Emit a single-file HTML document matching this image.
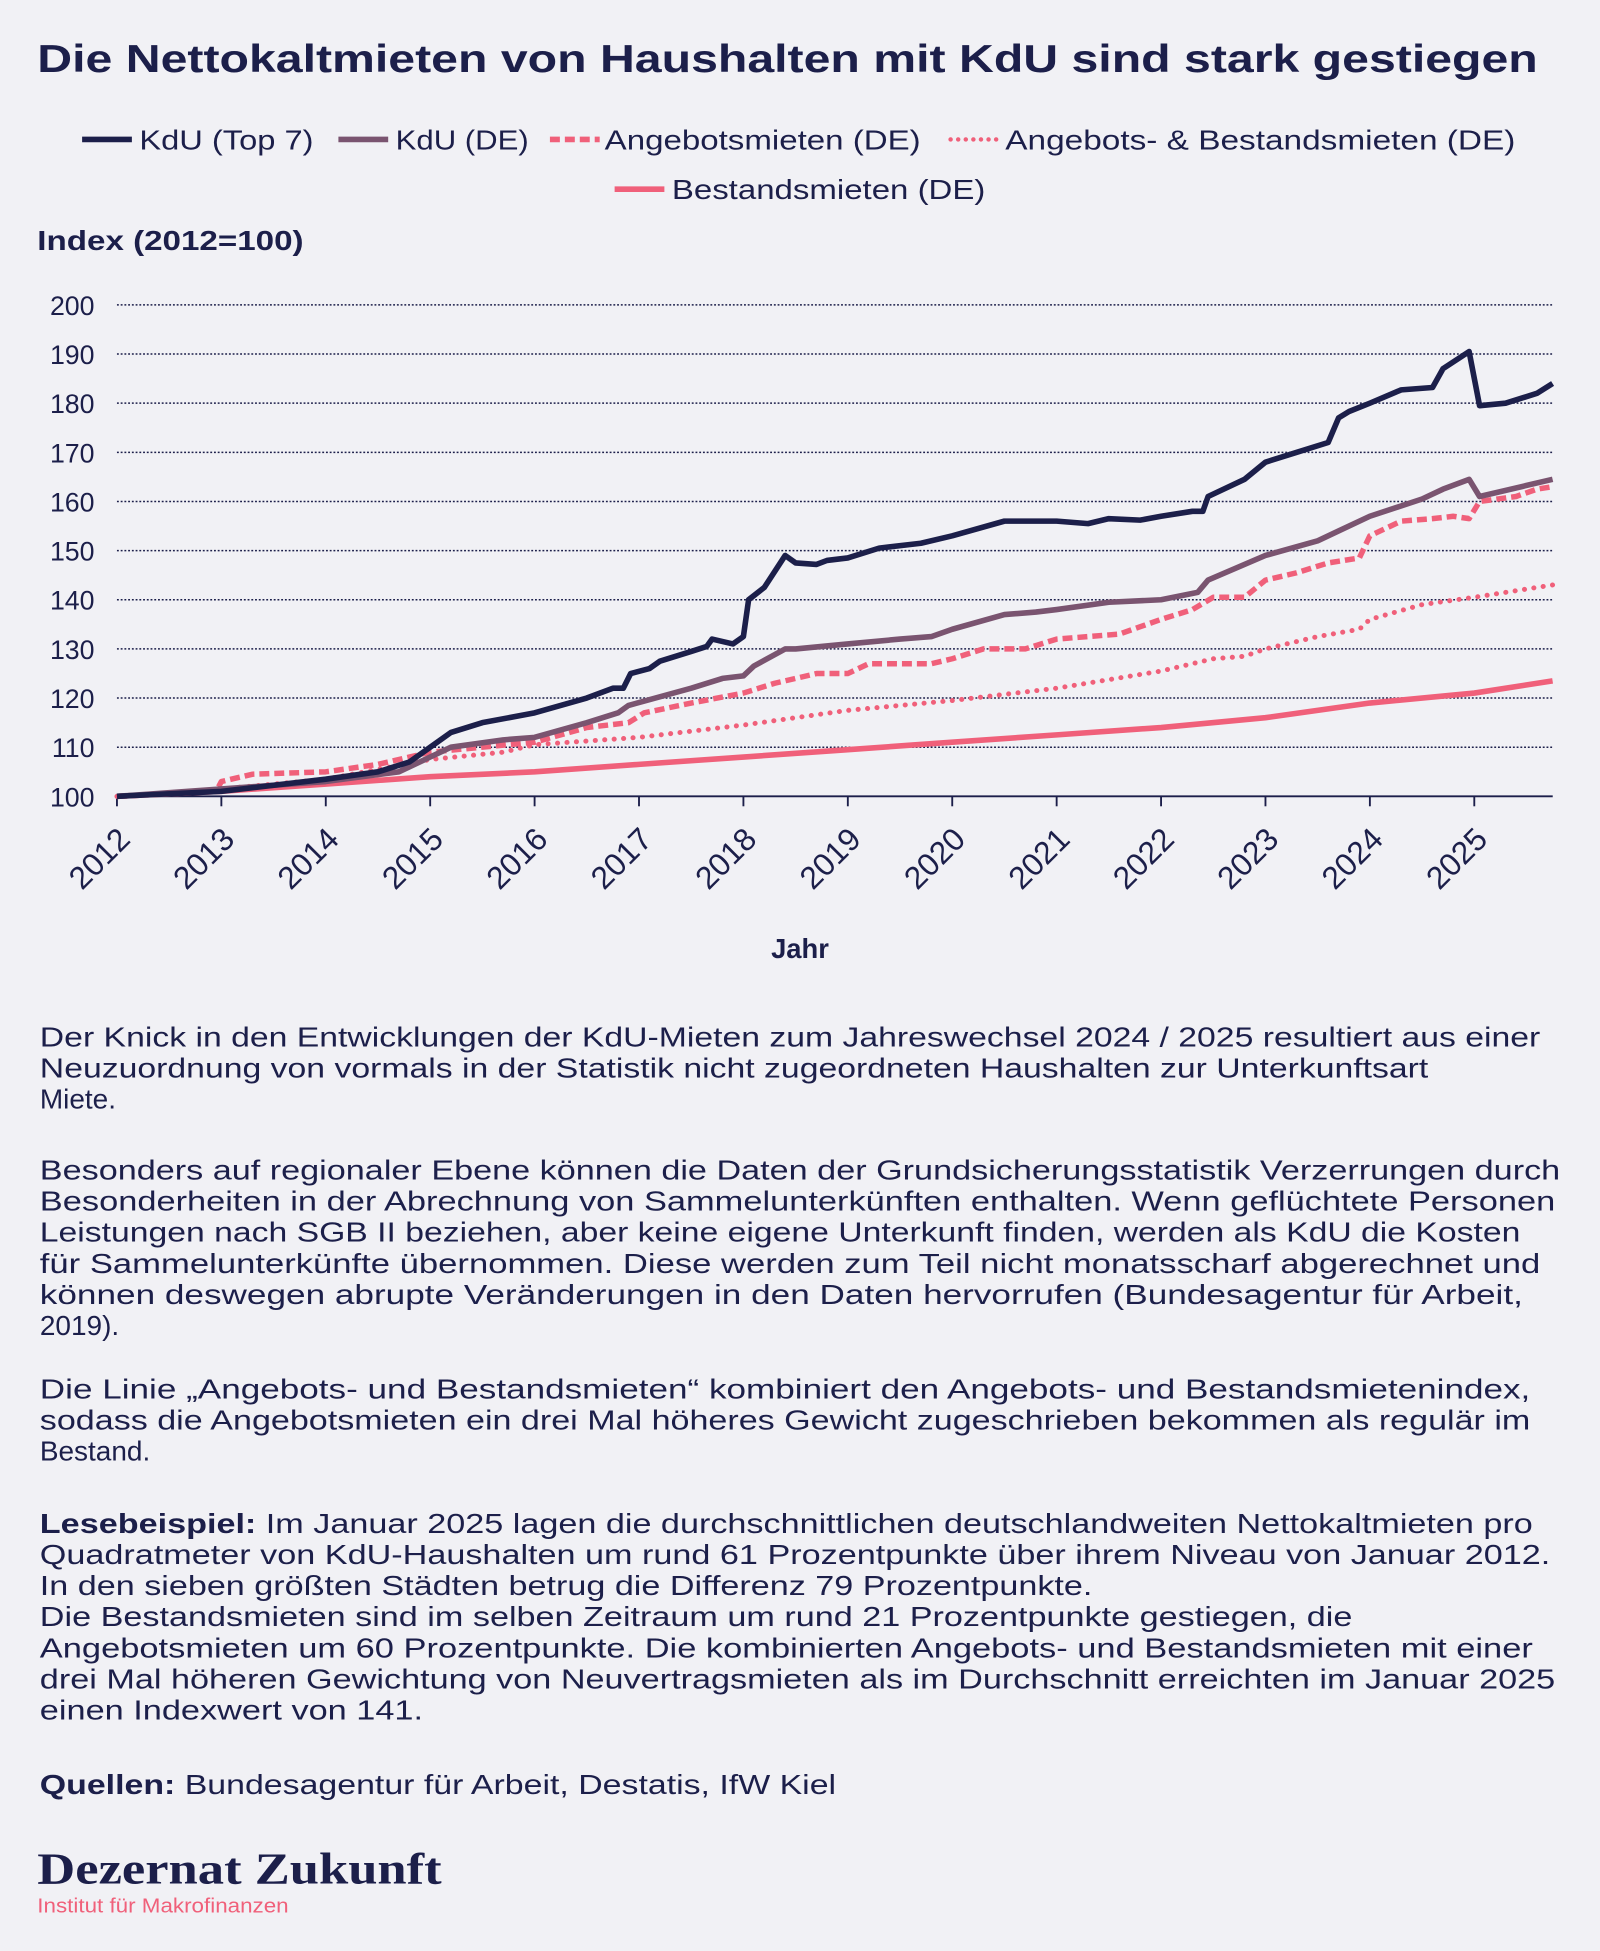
<!DOCTYPE html>
<html><head><meta charset="utf-8"><style>
html,body{margin:0;padding:0;background:#f1f1f5;}
svg{display:block;}
text{font-family:"Liberation Sans",sans-serif;fill:#1c1f4a;}
</style></head><body>
<svg id="s" width="1600" height="1951" viewBox="0 0 1286 1568" xmlns="http://www.w3.org/2000/svg">
<rect width="1286" height="1568" fill="#f1f1f5"/>
<text x="30" y="58" font-size="31" font-weight="bold" textLength="1206" lengthAdjust="spacingAndGlyphs">Die Nettokaltmieten von Haushalten mit KdU sind stark gestiegen</text>
<g font-size="22">
<line x1="66" y1="112" x2="106" y2="112" stroke="#1c1f4a" stroke-width="4.5"/>
<text x="112" y="120" textLength="140" lengthAdjust="spacingAndGlyphs">KdU (Top 7)</text>
<line x1="272" y1="112" x2="312" y2="112" stroke="#7a5470" stroke-width="4.5"/>
<text x="318" y="120" textLength="107" lengthAdjust="spacingAndGlyphs">KdU (DE)</text>
<line x1="442" y1="112" x2="482" y2="112" stroke="#f0607a" stroke-width="4.5" stroke-dasharray="8,4"/>
<text x="486" y="120" textLength="254" lengthAdjust="spacingAndGlyphs">Angebotsmieten (DE)</text>
<line x1="764" y1="112" x2="802" y2="112" stroke="#f0607a" stroke-width="3.5" stroke-dasharray="0.1,6" stroke-linecap="round"/>
<text x="808" y="120" textLength="410" lengthAdjust="spacingAndGlyphs">Angebots- &amp; Bestandsmieten (DE)</text>
<line x1="494" y1="152" x2="534" y2="152" stroke="#f0607a" stroke-width="4.5"/>
<text x="540" y="160" textLength="252" lengthAdjust="spacingAndGlyphs">Bestandsmieten (DE)</text>
</g>
<text x="30" y="201" font-size="22" font-weight="bold" textLength="214" lengthAdjust="spacingAndGlyphs">Index (2012=100)</text>
<g id="grid"></g>
<g id="series" fill="none" stroke-linejoin="round"></g>
<text x="643" y="770" font-size="22" font-weight="bold" text-anchor="middle">Jahr</text>
<g font-size="22.5">
<text x="32" y="841" textLength="1206" lengthAdjust="spacingAndGlyphs">Der Knick in den Entwicklungen der KdU-Mieten zum Jahreswechsel 2024 / 2025 resultiert aus einer</text>
<text x="32" y="866" textLength="1116" lengthAdjust="spacingAndGlyphs">Neuzuordnung von vormals in der Statistik nicht zugeordneten Haushalten zur Unterkunftsart</text>
<text x="32" y="891">Miete.</text>
<text x="32" y="948" textLength="1222" lengthAdjust="spacingAndGlyphs">Besonders auf regionaler Ebene können die Daten der Grundsicherungsstatistik Verzerrungen durch</text>
<text x="32" y="973" textLength="1218" lengthAdjust="spacingAndGlyphs">Besonderheiten in der Abrechnung von Sammelunterkünften enthalten. Wenn geflüchtete Personen</text>
<text x="32" y="998" textLength="1190" lengthAdjust="spacingAndGlyphs">Leistungen nach SGB II beziehen, aber keine eigene Unterkunft finden, werden als KdU die Kosten</text>
<text x="32" y="1023" textLength="1206" lengthAdjust="spacingAndGlyphs">für Sammelunterkünfte übernommen. Diese werden zum Teil nicht monatsscharf abgerechnet und</text>
<text x="32" y="1048" textLength="1192" lengthAdjust="spacingAndGlyphs">können deswegen abrupte Veränderungen in den Daten hervorrufen (Bundesagentur für Arbeit,</text>
<text x="32" y="1073">2019).</text>
<text x="32" y="1124" textLength="1198" lengthAdjust="spacingAndGlyphs">Die Linie „Angebots- und Bestandsmieten“ kombiniert den Angebots- und Bestandsmietenindex,</text>
<text x="32" y="1149" textLength="1198" lengthAdjust="spacingAndGlyphs">sodass die Angebotsmieten ein drei Mal höheres Gewicht zugeschrieben bekommen als regulär im</text>
<text x="32" y="1174">Bestand.</text>
<text x="32" y="1232" textLength="1200" lengthAdjust="spacingAndGlyphs"><tspan font-weight="bold">Lesebeispiel:</tspan> Im Januar 2025 lagen die durchschnittlichen deutschlandweiten Nettokaltmieten pro</text>
<text x="32" y="1257" textLength="1214" lengthAdjust="spacingAndGlyphs">Quadratmeter von KdU-Haushalten um rund 61 Prozentpunkte über ihrem Niveau von Januar 2012.</text>
<text x="32" y="1282" textLength="846" lengthAdjust="spacingAndGlyphs">In den sieben größten Städten betrug die Differenz 79 Prozentpunkte.</text>
<text x="32" y="1307" textLength="1055" lengthAdjust="spacingAndGlyphs">Die Bestandsmieten sind im selben Zeitraum um rund 21 Prozentpunkte gestiegen, die</text>
<text x="32" y="1332" textLength="1200" lengthAdjust="spacingAndGlyphs">Angebotsmieten um 60 Prozentpunkte. Die kombinierten Angebots- und Bestandsmieten mit einer</text>
<text x="32" y="1357" textLength="1218" lengthAdjust="spacingAndGlyphs">drei Mal höheren Gewichtung von Neuvertragsmieten als im Durchschnitt erreichten im Januar 2025</text>
<text x="32" y="1382" textLength="308" lengthAdjust="spacingAndGlyphs">einen Indexwert von 141.</text>
<text x="32" y="1442" textLength="640" lengthAdjust="spacingAndGlyphs"><tspan font-weight="bold">Quellen:</tspan> Bundesagentur für Arbeit, Destatis, IfW Kiel</text>
</g>
<text x="30" y="1514" font-size="36" font-weight="bold" textLength="325" lengthAdjust="spacingAndGlyphs" style="font-family:'Liberation Serif',serif">Dezernat Zukunft</text>
<text x="30" y="1537" font-size="16" style="fill:#f0607a" textLength="202" lengthAdjust="spacingAndGlyphs">Institut für Makrofinanzen</text>
</svg>
<script>
var NS="http://www.w3.org/2000/svg";
function X(t){return 94+83.92*(t-2012);}
function Y(v){return 640-3.95*(v-100);}
function el(tag,attrs,txt,parent){var e=document.createElementNS(NS,tag);for(var k in attrs)e.setAttribute(k,attrs[k]);if(txt!=null)e.textContent=txt;parent.appendChild(e);return e;}
var g=document.getElementById('grid');
for(var v=110;v<=200;v+=10){el('line',{x1:94,x2:1248,y1:Y(v),y2:Y(v),stroke:'#1c1f4a','stroke-width':1.2,'stroke-dasharray':'1.5,1.5'},null,g);}
for(var v=100;v<=200;v+=10){el('text',{x:76,y:Y(v)+8,'font-size':21.5,'text-anchor':'end'},String(v),g);}
el('line',{x1:94,x2:1248,y1:640,y2:640,stroke:'#1c1f4a','stroke-width':1.5},null,g);
for(var yr=2012;yr<=2025;yr++){var x=X(yr);el('line',{x1:x,x2:x,y1:640,y2:648,stroke:'#1c1f4a','stroke-width':1.5},null,g);
el('text',{x:x+12,y:676,'font-size':25.5,'text-anchor':'end',transform:'rotate(-45 '+(x+12)+' 676)'},String(yr),g);}
var S={
top7:[[2012,100],[2013,101],[2014,103.5],[2014.5,105],[2014.8,107],[2015,110],[2015.2,113],[2015.5,115],[2016,117],[2016.5,120],[2016.75,122],[2016.85,122],[2016.92,125],[2017.1,126],[2017.2,127.5],[2017.5,129.5],[2017.65,130.5],[2017.7,132],[2017.9,131],[2018,132.5],[2018.05,140],[2018.2,142.5],[2018.4,149],[2018.5,147.5],[2018.7,147.2],[2018.8,148],[2019,148.5],[2019.3,150.5],[2019.7,151.5],[2020,153],[2020.5,156],[2021,156],[2021.3,155.5],[2021.5,156.5],[2021.8,156.2],[2022,157],[2022.3,158],[2022.4,158],[2022.45,161],[2022.8,164.5],[2023,168],[2023.3,170],[2023.6,172],[2023.7,177],[2023.8,178.3],[2024,180],[2024.3,182.7],[2024.6,183.2],[2024.7,187],[2024.95,190.5],[2025.05,179.5],[2025.3,180],[2025.6,182],[2025.75,184]],
de:[[2012,100],[2014,103],[2014.7,105],[2015,108],[2015.2,110],[2015.7,111.5],[2016,112],[2016.5,115],[2016.8,117],[2016.9,118.5],[2017.5,122],[2017.8,124],[2018,124.5],[2018.1,126.5],[2018.4,130],[2018.5,130],[2019,131],[2019.5,132],[2019.8,132.5],[2020,134],[2020.5,137],[2020.8,137.5],[2021,138],[2021.5,139.5],[2022,140],[2022.35,141.5],[2022.45,144],[2023,149],[2023.5,152],[2023.7,154],[2024,157],[2024.5,160.5],[2024.7,162.5],[2024.95,164.5],[2025.05,161],[2025.75,164.5]],
ang:[[2012,100],[2012.95,101],[2013,103],[2013.3,104.5],[2014,105],[2014.5,106.5],[2014.8,108],[2015,109],[2015.5,110],[2016,111],[2016.5,114],[2016.9,115],[2017.05,117],[2017.5,119],[2018,121],[2018.3,123],[2018.7,125],[2019,125],[2019.2,127],[2019.5,127],[2019.8,127],[2020,128],[2020.3,130],[2020.7,130],[2021,132],[2021.3,132.5],[2021.6,133],[2022,136],[2022.3,138],[2022.5,140.5],[2022.8,140.5],[2023,144],[2023.3,145.5],[2023.6,147.5],[2023.9,148.5],[2024,153],[2024.3,156],[2024.6,156.5],[2024.8,157],[2024.95,156.5],[2025.05,160],[2025.4,161],[2025.6,162.5],[2025.75,163]],
comb:[[2012,100],[2013,101.5],[2014,103.5],[2015,107.5],[2015.7,109],[2016,110.5],[2017,112],[2018,114.5],[2019,117.5],[2020,119.5],[2021,122],[2022,125.5],[2022.5,128],[2022.8,128.5],[2023,130],[2023.5,132.5],[2023.9,134],[2024,136],[2024.5,139],[2025,140.5],[2025.75,143]],
best:[[2012,100],[2013,101],[2014,102.5],[2015,104],[2016,105],[2017,106.5],[2018,108],[2019,109.5],[2020,111],[2021,112.5],[2022,114],[2023,116],[2024,119],[2025,121],[2025.75,123.5]]};
var st=[['best','#f0607a',4.5,''],['comb','#f0607a',4,'0.1,7.5'],['ang','#f0607a',4.4,'8,4'],['de','#7a5470',4.5,''],['top7','#1c1f4a',4.5,'']];
var sg=document.getElementById('series');
st.forEach(function(s){var p=S[s[0]].map(function(d){return X(d[0]).toFixed(1)+','+Y(d[1]).toFixed(1);}).join(' ');
var a={points:p,stroke:s[1],'stroke-width':s[2]};if(s[3]){a['stroke-dasharray']=s[3];}if(s[0]=='comb')a['stroke-linecap']='round';el('polyline',a,null,sg);});
</script>
</body></html>
